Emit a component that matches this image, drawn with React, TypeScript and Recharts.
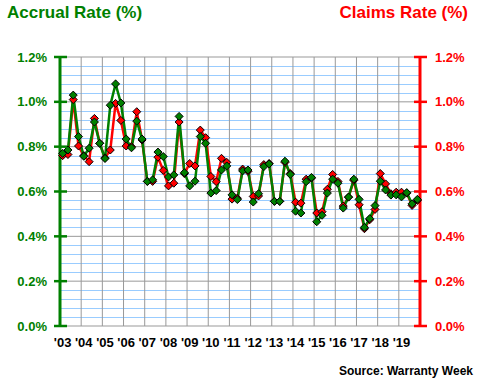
import { CartesianGrid, Line, LineChart, XAxis, YAxis } from "recharts";

const yearLabels = ["'03", "'04", "'05", "'06", "'07", "'08", "'09", "'10", "'11", "'12", "'13", "'14", "'15", "'16", "'17", "'18", "'19"];

// quarterly rates, 2003 Q1 .. 2019 Q4 (percent)
const accrualRate = [
  0.77, 0.785, 1.03, 0.845, 0.757, 0.793, 0.91, 0.815,
  0.747, 0.985, 1.08, 0.995, 0.834, 0.795, 0.914, 0.834,
  0.645, 0.652, 0.776, 0.756, 0.665, 0.674, 0.935, 0.684,
  0.625, 0.646, 0.845, 0.815, 0.593, 0.604, 0.696, 0.714,
  0.585, 0.564, 0.692, 0.696, 0.553, 0.59, 0.711, 0.723,
  0.556, 0.556, 0.735, 0.676, 0.512, 0.504, 0.644, 0.663,
  0.465, 0.494, 0.593, 0.655, 0.637, 0.526, 0.575, 0.655,
  0.565, 0.44, 0.479, 0.537, 0.646, 0.607, 0.584, 0.585,
  0.576, 0.595, 0.545, 0.565,
];

const claimsRate = [
  0.76, 0.765, 1.01, 0.803, 0.76, 0.733, 0.926, 0.815,
  0.75, 0.785, 0.993, 0.917, 0.803, 0.8, 0.956, 0.83,
  0.645, 0.645, 0.753, 0.694, 0.625, 0.637, 0.91, 0.68,
  0.725, 0.714, 0.874, 0.84, 0.667, 0.644, 0.748, 0.73,
  0.566, 0.57, 0.7, 0.69, 0.578, 0.58, 0.72, 0.725,
  0.556, 0.556, 0.73, 0.68, 0.552, 0.548, 0.655, 0.66,
  0.504, 0.51, 0.61, 0.676, 0.645, 0.535, 0.575, 0.65,
  0.541, 0.434, 0.474, 0.52, 0.68, 0.634, 0.59, 0.597,
  0.597, 0.593, 0.538, 0.56,
];

const rateTicks = [0, 0.2, 0.4, 0.6, 0.8, 1.0, 1.2];
const minorTicks = [
  0.04, 0.08, 0.12, 0.16, 0.24, 0.28, 0.32, 0.36, 0.44, 0.48, 0.52, 0.56,
  0.64, 0.68, 0.72, 0.76, 0.84, 0.88, 0.92, 0.96, 1.04, 1.08, 1.12, 1.16,
];
const rateMax = 1.2;

const GREEN = "#008000";
const RED = "#ff0000";
const FONT = "Arial, 'Liberation Sans', sans-serif";

// chart box
const W = 480;
const H = 380;
const TOP = 57;
const AXIS_W = 60;
const X_AXIS_H = 54;
const PLOT_H = H - TOP - X_AXIS_H;

const data = accrualRate.map((accrual, i) => ({
  pos: i + 0.5,
  accrual,
  claims: claimsRate[i],
}));

const yearTicks = yearLabels.map((_, k) => k * 4);
const quarterCount = accrualRate.length;

function diamond(fill: string) {
  return (props: any) => {
    const { cx, cy, index } = props;
    if (cx == null || cy == null) return <g key={index} />;
    const r = 4;
    return (
      <path
        key={index}
        d={`M${cx},${cy - r}L${cx + r},${cy}L${cx},${cy + r}L${cx - r},${cy}Z`}
        fill={fill}
        stroke="#000"
        strokeWidth={1}
      />
    );
  };
}

function RateTick({ x, y, payload, side }: any) {
  const color = side === "left" ? GREEN : RED;
  return (
    <g>
      <line x1={x - 6} x2={x + 7} y1={y} y2={y} stroke={color} strokeWidth={2.5} />
      <text
        x={side === "left" ? x - 13 : x + 15}
        y={y}
        dy={4.5}
        textAnchor={side === "left" ? "end" : "start"}
        fill={color}
        fontSize={13}
        fontWeight="bold"
        fontFamily={FONT}
      >
        {`${Number(payload.value).toFixed(1)}%`}
      </text>
    </g>
  );
}

function YearTick({ x, y, payload }: any) {
  return (
    <text
      x={x + 2.6}
      y={y}
      dy={21}
      textAnchor="middle"
      fill="#000"
      fontSize={13}
      fontWeight="bold"
      fontFamily={FONT}
    >
      {yearLabels[payload.value / 4]}
    </text>
  );
}

export default function App() {
  return (
    <div style={{ position: "absolute", left: 0, top: 0, width: W, height: H, background: "#fff" }}>
      {/* light blue minor grid, sits under the chart */}
      <svg width={W} height={H} style={{ position: "absolute", left: 0, top: 0 }}>
        {minorTicks.map((v) => {
          const y = Math.round(TOP + PLOT_H * (1 - v / rateMax)) + 0.5;
          return <line key={v} x1={AXIS_W} x2={W - AXIS_W} y1={y} y2={y} stroke="#99ccff" strokeWidth={1} />;
        })}
      </svg>

      <div style={{ position: "absolute", left: 0, top: 0 }}>
        <LineChart width={W} height={H} data={data} margin={{ top: TOP, right: 0, left: 0, bottom: 0 }}>
          <XAxis
            dataKey="pos"
            type="number"
            domain={[0, quarterCount]}
            ticks={yearTicks}
            interval={0}
            axisLine={false}
            tickLine={false}
            tickSize={0}
            tickMargin={0}
            height={X_AXIS_H}
            tick={<YearTick />}
          />
          <YAxis
            yAxisId="left"
            domain={[0, rateMax]}
            ticks={rateTicks}
            interval={0}
            width={AXIS_W}
            tickSize={0}
            tickMargin={0}
            tickLine={false}
            axisLine={{ stroke: GREEN, strokeWidth: 3 }}
            tick={<RateTick side="left" />}
          />
          <YAxis
            yAxisId="right"
            orientation="right"
            domain={[0, rateMax]}
            ticks={rateTicks}
            interval={0}
            width={AXIS_W}
            tickSize={0}
            tickMargin={0}
            tickLine={false}
            axisLine={{ stroke: RED, strokeWidth: 3 }}
            tick={<RateTick side="right" />}
          />

          <CartesianGrid yAxisId="left" stroke="#999999" strokeWidth={1} />

          <Line
            yAxisId="right"
            dataKey="claims"
            stroke={RED}
            strokeWidth={2.5}
            dot={diamond(RED)}
            activeDot={false}
            isAnimationActive={false}
          />
          <Line
            yAxisId="left"
            dataKey="accrual"
            stroke={GREEN}
            strokeWidth={2.5}
            dot={diamond(GREEN)}
            activeDot={false}
            isAnimationActive={false}
          />
        </LineChart>
      </div>

      <svg
        width={W}
        height={H}
        style={{ position: "absolute", left: 0, top: 0, pointerEvents: "none" }}
      >
        <text x={7} y={18} fill={GREEN} fontSize={17} fontWeight="bold" fontFamily={FONT}>
          Accrual Rate (%)
        </text>
        <text x={468} y={18} textAnchor="end" fill={RED} fontSize={17} fontWeight="bold" fontFamily={FONT}>
          Claims Rate (%)
        </text>
        <text x={473} y={375} textAnchor="end" fill="#000" fontSize={12} fontWeight="bold" fontFamily={FONT}>
          Source: Warranty Week
        </text>
      </svg>
    </div>
  );
}
